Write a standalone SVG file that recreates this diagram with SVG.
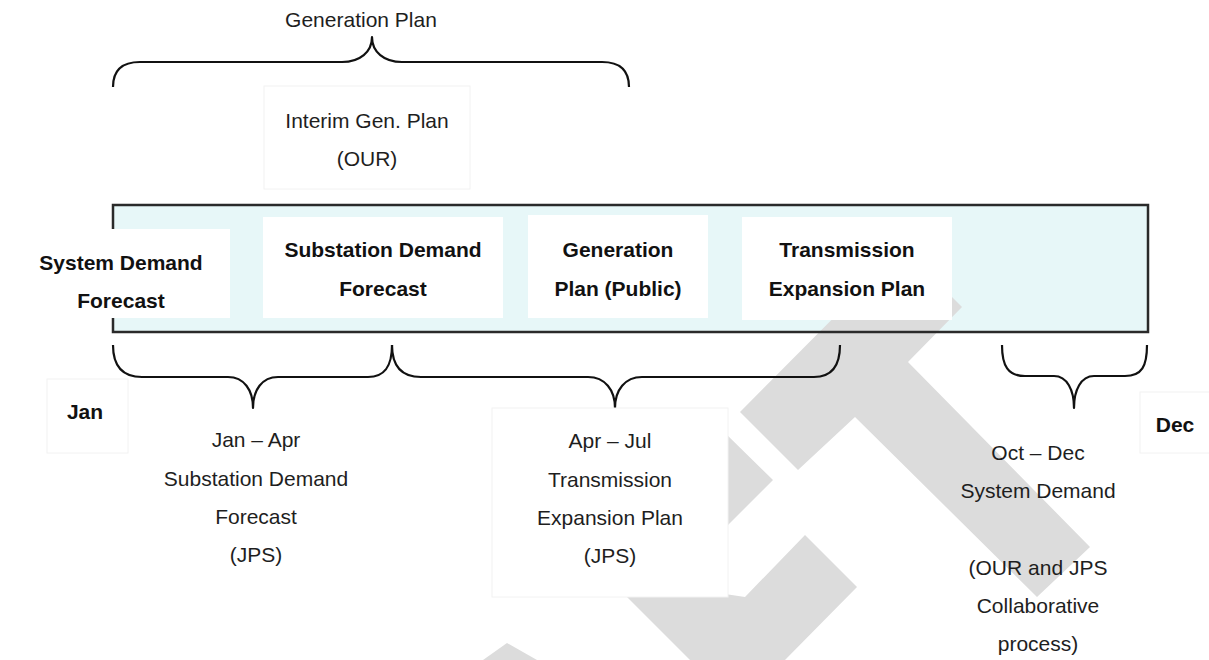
<svg xmlns="http://www.w3.org/2000/svg" width="1209" height="660" viewBox="0 0 1209 660">
  <style>
    .lbl { font-family: "Liberation Sans", Arial, sans-serif; font-size: 21px; fill: #1e1e1e; text-anchor: middle; }
    .bold { font-weight: bold; fill: #111; }
    .card { fill: #ffffff; stroke: #f2f2f2; stroke-width: 1; }
    .inner { fill: #ffffff; }
    .brace { fill: none; stroke: #111; stroke-width: 2.2; stroke-linejoin: round; }
    .mark { fill: #dcdcdc; }
  </style>

  <rect width="1209" height="660" fill="#ffffff"/>

  <!-- timeline band fill -->
  <rect id="timeline-fill" x="113" y="205" width="1035" height="127" fill="#e7f7f8"/>

  <!-- background mark -->
  <g id="backdrop">
    <polygon class="mark" points="903,248 962,307 908,362 1090,547 1037,597 855,417 798,470 740,412"/>
    <polygon class="mark" points="722,430 773,480 725,528 725,594 745,597 805,535 857,587 785,660 690,660 620,590 600,520"/>
    <polygon class="mark" points="507,643 537,660 483,660"/>
  </g>

  <!-- timeline band border -->
  <rect id="timeline" x="113" y="205" width="1035" height="127" fill="none" stroke="#2a2a2a" stroke-width="2.5"/>

  <!-- brackets -->
  <g id="braces">
    <path class="brace" d="M113,87 C113,70 122,62 140,62 L342,62 C360,62 372,52 372,37 C372,52 384,62 402,62 L602,62 C620,62 629,70 629,87"/>
    <path class="brace" d="M113,345 C113,366 122,377 142,377 L228,377 C244,377 253,390 253,408 C253,390 262,377 278,377 L368,377 C385,377 392,366 392,345"/>
    <path class="brace" d="M392,345 C392,366 401,377 421,377 L588,377 C605,377 615,390 615,408 C615,390 625,377 642,377 L814,377 C832,377 840,366 840,345"/>
    <path class="brace" d="M1002,345 C1002,366 1008,376 1025,376 L1054,376 C1067,376 1074,390 1074,408 C1074,390 1081,376 1094,376 L1125,376 C1142,376 1147,366 1147,345"/>
  </g>

  <!-- top annotation -->
  <g id="generation-plan">
    <text class="lbl" x="361" y="27">Generation Plan</text>
  </g>
  <g id="interim-gen-plan">
    <rect class="card" x="264" y="86" width="206" height="103"/>
    <text class="lbl" x="367" y="128">Interim Gen. Plan</text>
    <text class="lbl" x="367" y="166">(OUR)</text>
  </g>

  <!-- stages on the timeline -->
  <g id="system-demand-forecast">
    <rect class="inner" x="12" y="229" width="218" height="89"/>
    <text class="lbl bold" x="121" y="270">System Demand</text>
    <text class="lbl bold" x="121" y="308">Forecast</text>
  </g>
  <g id="substation-demand-forecast">
    <rect class="inner" x="263" y="217" width="240" height="101"/>
    <text class="lbl bold" x="383" y="257">Substation Demand</text>
    <text class="lbl bold" x="383" y="296">Forecast</text>
  </g>
  <g id="generation-plan-public">
    <rect class="inner" x="528" y="215" width="180" height="103"/>
    <text class="lbl bold" x="618" y="257">Generation</text>
    <text class="lbl bold" x="618" y="296">Plan (Public)</text>
  </g>
  <g id="transmission-expansion-plan">
    <rect class="inner" x="742" y="217" width="210" height="103"/>
    <text class="lbl bold" x="847" y="257">Transmission</text>
    <text class="lbl bold" x="847" y="296">Expansion Plan</text>
  </g>

  <!-- month markers -->
  <g id="jan">
    <rect class="card" x="47" y="379" width="81" height="74"/>
    <text class="lbl bold" x="85" y="419">Jan</text>
  </g>
  <g id="dec">
    <rect class="card" x="1140" y="392" width="75" height="61"/>
    <text class="lbl bold" x="1175" y="432">Dec</text>
  </g>

  <!-- periods -->
  <g id="jan-apr">
    <text class="lbl" x="256" y="447">Jan – Apr</text>
    <text class="lbl" x="256" y="486">Substation Demand</text>
    <text class="lbl" x="256" y="524">Forecast</text>
    <text class="lbl" x="256" y="562">(JPS)</text>
  </g>
  <g id="apr-jul">
    <rect class="card" x="492" y="408" width="236" height="189"/>
    <text class="lbl" x="610" y="448">Apr – Jul</text>
    <text class="lbl" x="610" y="487">Transmission</text>
    <text class="lbl" x="610" y="525">Expansion Plan</text>
    <text class="lbl" x="610" y="563">(JPS)</text>
  </g>
  <g id="oct-dec">
    <text class="lbl" x="1038" y="460">Oct – Dec</text>
    <text class="lbl" x="1038" y="498">System Demand</text>
    <text class="lbl" x="1038" y="575">(OUR and JPS</text>
    <text class="lbl" x="1038" y="613">Collaborative</text>
    <text class="lbl" x="1038" y="651">process)</text>
  </g>
</svg>
